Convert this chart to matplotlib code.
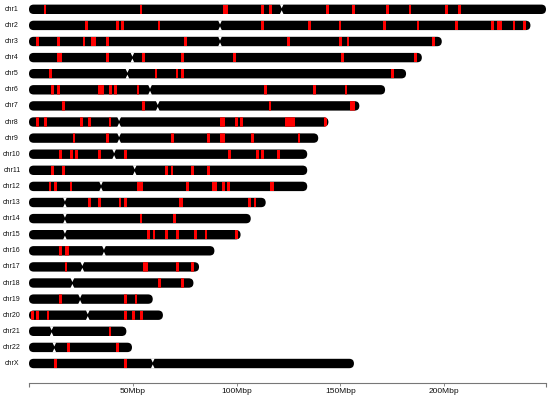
import matplotlib.pyplot as plt
from matplotlib.patches import FancyBboxPatch, Rectangle, Polygon

# chromosome names, lengths (Mbp) and centromere positions (Mbp)
chroms = ['chr1', 'chr2', 'chr3', 'chr4', 'chr5', 'chr6', 'chr7', 'chr8', 'chr9', 'chr10',
          'chr11', 'chr12', 'chr13', 'chr14', 'chr15', 'chr16', 'chr17', 'chr18', 'chr19',
          'chr20', 'chr21', 'chr22', 'chrX']
lengths = [249.0, 241.5, 198.8, 189.2, 181.6, 171.5, 159.1, 144.2, 139.3, 134.0, 134.0, 134.0,
           114.0, 106.8, 101.9, 89.3, 81.9, 79.2, 59.6, 64.5, 46.9, 49.6, 156.5]
centromeres = [121.7, 92.0, 92.0, 49.8, 47.4, 58.3, 62.0, 43.4, 43.4, 41.0, 50.9, 34.7,
               17.3, 17.3, 17.3, 36.1, 25.7, 20.9, 24.6, 28.3, 10.9, 12.2, 59.6]

# red bands: narrow ones as single positions, wide ones as (start, end)
bands = [
    [7.7, 54, (93.3, 96.0), 112.4, 116.4, 143.7, 156.2, 172.6, 183.5, 201.2, 207.3],
    [27.6, 42.5, 45.1, 62.6, 112.6, 135, 149.8, 171.1, 187.4, 206, 223.4, (225.4, 227.7), 233.6, 238.6],
    [4.0, 14.1, 26.5, (29.8, 32.2), 37.7, 75.3, 124.9, 150, 153.7, 194.8],
    [(13.5, 15.8), 37.7, 55.1, 74, 98.9, 151.1, 186.3],
    [10.3, 61.2, 71.3, 73.8, 175],
    [11.4, 14.1, (33.3, 35.9), 39.2, 41.6, 52.5, 114, 137.6, 152.7],
    [16.5, 55.2, 116.1, (154.6, 157.0)],
    [4, 7.9, 25.4, 29, 39, (92.2, 94.5), 100, 102.4, (123.3, 128.1), (142.2, 143.6)],
    [21.7, 37.7, 69, 86.4, (92.2, 94.5), 107.6, 130],
    [15.3, 20.4, 23, 34, 46.4, 96.5, 110, 112.6, 120.0],
    [11.4, 16.5, 66.3, 68.9, 78.8, 86.4],
    [10.1, 12.7, 20.2, (52.1, 54.7), 76.4, (88.2, 90.7), 93.8, 96.2, (116.0, 118.2)],
    [29, 34, 43.8, 46.4, (72.3, 74.4), 106.3, 108.9],
    [54, 70.2],
    [57.6, 60.2, 66.3, 71.4, 80.1, 85.3, 100],
    [15.3, (17.4, 19.5)],
    [17.8, (54.7, 57.1), 71.4, 78.8],
    [62.8, 73.8],
    [15.3, 46.4, 51.5],
    [1.6, 4, 9.2, 46.4, 50.2, 54.1],
    [39],
    [18.9, 42.7],
    [12.7, 46.4],
]

tick_vals = [50, 100, 150, 200]
tick_labels = ['50Mbp', '100Mbp', '150Mbp', '200Mbp']
axis_max = 249

plt.rcParams['font.family'] = ['Liberation Sans', 'DejaVu Sans']

W, H = 550, 398
fig = plt.figure(figsize=(W / 100, H / 100), dpi=100)
axis_px = 382.7
row_px = 16.1
top_row_px = 9.3
ax = fig.add_axes([29 / W, (H - axis_px) / H, 517 / W, axis_px / H])
ax.set_xlim(0, axis_max)
ymax = (axis_px - top_row_px) / row_px
ymin = -top_row_px / row_px
ax.set_ylim(ymax, ymin)

mbp_per_px = axis_max / 517
bar_h = 9.4 / row_px
rx = 4.7 * mbp_per_px
aspect = bar_h / (2 * rx)
band_w = 1.3
notch_w = 1.9 * mbp_per_px
notch_d = bar_h * 0.4

for i, (name, L, cen, bl) in enumerate(zip(chroms, lengths, centromeres, bands)):
    body = FancyBboxPatch((0, i - bar_h / 2), L, bar_h,
                          boxstyle="round,pad=0,rounding_size=%f" % rx,
                          mutation_aspect=aspect, fc='black', ec='none', zorder=2)
    ax.add_patch(body)
    for b in bl:
        if isinstance(b, tuple):
            s, e = b
        else:
            s, e = b - band_w / 2, b + band_w / 2
        r = Rectangle((s, i - bar_h / 2), e - s, bar_h, fc='#ff0000', ec='none', zorder=3)
        ax.add_patch(r)
        r.set_clip_path(body)
    # centromere pinch
    top = i - bar_h / 2
    bot = i + bar_h / 2
    ax.add_patch(Polygon([(cen - notch_w, top - 0.02), (cen + notch_w, top - 0.02), (cen, top + notch_d)],
                         closed=True, fc='white', ec='none', zorder=4))
    ax.add_patch(Polygon([(cen - notch_w, bot + 0.02), (cen + notch_w, bot + 0.02), (cen, bot - notch_d)],
                         closed=True, fc='white', ec='none', zorder=4))
    ax.text(-17 * mbp_per_px, i, name, ha='center', va='center', fontsize=5,
            color='#111111', clip_on=False)

for s in ['top', 'left', 'right']:
    ax.spines[s].set_visible(False)
ax.spines['bottom'].set_color('#777777')
ax.spines['bottom'].set_linewidth(0.8)
ax.set_yticks([])
ax.set_xticks(tick_vals)
ax.set_xticklabels(tick_labels)
ax.set_xticks([0, axis_max], minor=True)
ax.tick_params(axis='x', which='major', length=2.5, width=0.6, color='#777777',
               labelsize=6, pad=1.5, labelcolor='#111111')
ax.tick_params(axis='x', which='minor', length=3, width=0.8, color='#777777')

fig.savefig('out.png', dpi=100)
